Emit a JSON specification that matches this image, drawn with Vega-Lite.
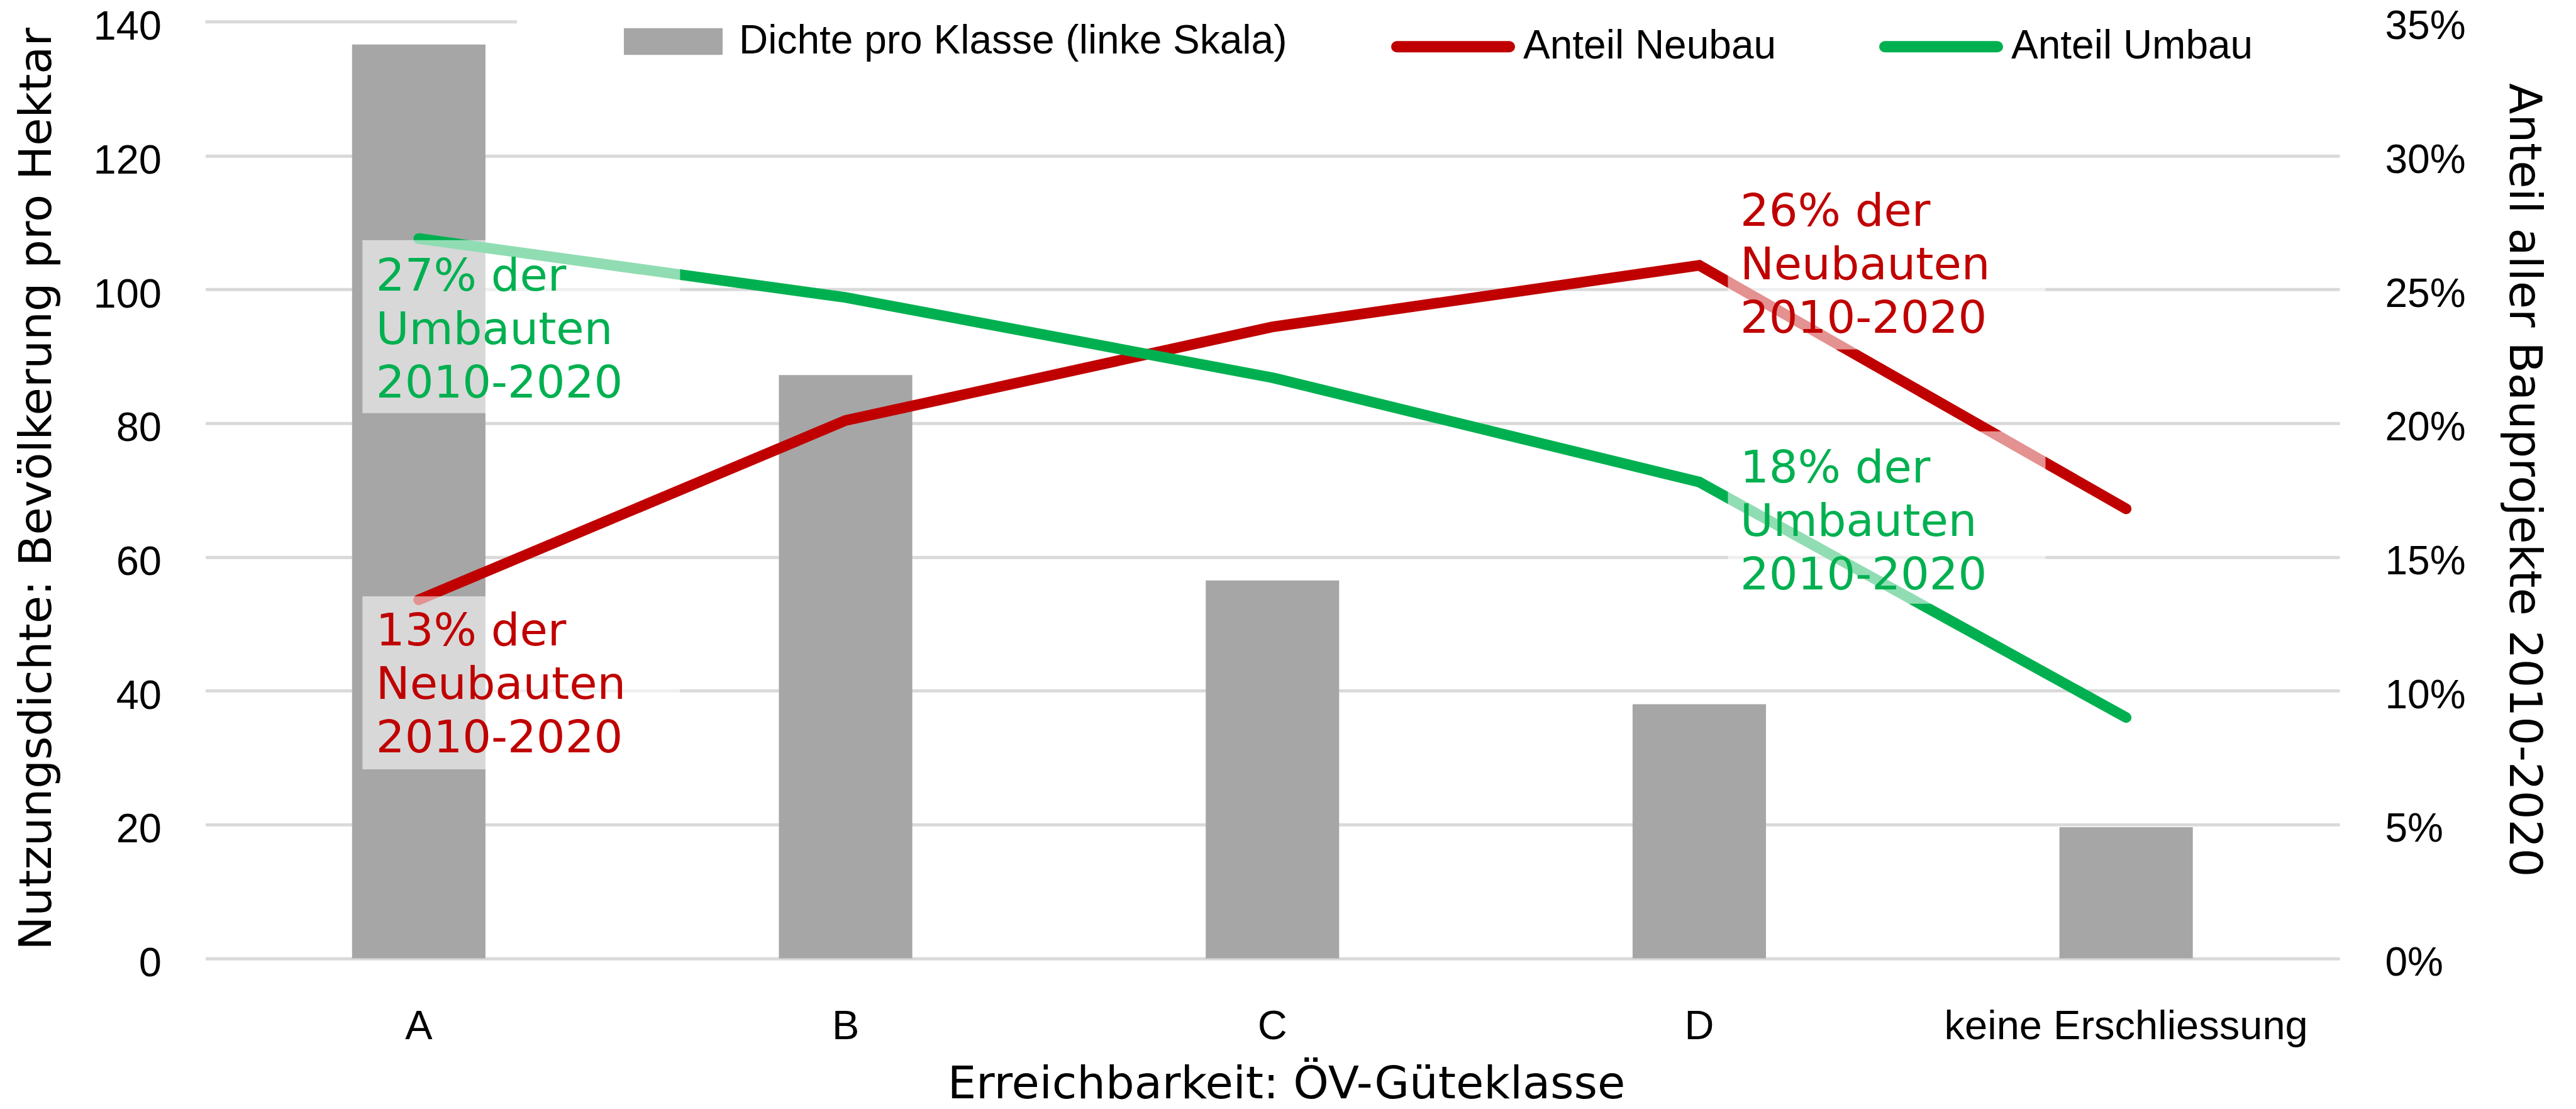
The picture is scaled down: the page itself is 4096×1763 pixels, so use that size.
{
  "$schema": "https://vega.github.io/schema/vega-lite/v6.json",
  "width": 3393.5,
  "height": 1488.8,
  "autosize": {"type": "none"},
  "padding": {"left": 326.5, "top": 34.7, "right": 376, "bottom": 239.5},
  "background": "white",
  "config": {"view": {"stroke": null}},
  "datasets": {
    "dichte": [
      {"Klasse": "A", "Dichte": 136.6},
      {"Klasse": "B", "Dichte": 87.2},
      {"Klasse": "C", "Dichte": 56.5},
      {"Klasse": "D", "Dichte": 38.0},
      {"Klasse": "keine Erschliessung", "Dichte": 19.6}
    ],
    "anteile": [
      {"Klasse": "A", "Serie": "Anteil Neubau", "Anteil": 0.134, "Notiz": "13% der\nNeubauten\n2010-2020"},
      {"Klasse": "B", "Serie": "Anteil Neubau", "Anteil": 0.201, "Notiz": ""},
      {"Klasse": "C", "Serie": "Anteil Neubau", "Anteil": 0.236, "Notiz": ""},
      {"Klasse": "D", "Serie": "Anteil Neubau", "Anteil": 0.259, "Notiz": "26% der\nNeubauten\n2010-2020"},
      {"Klasse": "keine Erschliessung", "Serie": "Anteil Neubau", "Anteil": 0.168, "Notiz": ""},
      {"Klasse": "A", "Serie": "Anteil Umbau", "Anteil": 0.269, "Notiz": "27% der\nUmbauten\n2010-2020"},
      {"Klasse": "B", "Serie": "Anteil Umbau", "Anteil": 0.247, "Notiz": ""},
      {"Klasse": "C", "Serie": "Anteil Umbau", "Anteil": 0.217, "Notiz": ""},
      {"Klasse": "D", "Serie": "Anteil Umbau", "Anteil": 0.178, "Notiz": "18% der\nUmbauten\n2010-2020"},
      {"Klasse": "keine Erschliessung", "Serie": "Anteil Umbau", "Anteil": 0.090, "Notiz": ""}
    ]
  },
  "encoding": {
    "x": {
      "field": "Klasse",
      "type": "nominal",
      "scale": {"domain": ["A", "B", "C", "D", "keine Erschliessung"], "paddingInner": 0.6875, "paddingOuter": 0.34375},
      "axis": {
        "title": "Erreichbarkeit: ÖV-Güteklasse",
        "domain": false,
        "ticks": false,
        "tickSize": 0,
        "grid": false,
        "labelAngle": 0,
        "labelPadding": 128,
        "labelBaseline": "alphabetic",
        "labelFont": "Liberation Sans",
        "labelFontSize": 65,
        "labelColor": "black",
        "labelLimit": 2000,
        "titleFont": "DejaVu Sans",
        "titleFontSize": 72,
        "titleFontWeight": "normal",
        "titleColor": "black",
        "titleBaseline": "alphabetic",
        "titleAlign": "center",
        "titleX": 1718.5,
        "titleY": 222
      }
    }
  },
  "layer": [
    {
      "data": {"name": "dichte"},
      "mark": {"type": "bar"},
      "encoding": {
        "y": {
          "field": "Dichte",
          "type": "quantitative",
          "scale": {"domain": [0, 140], "nice": false},
          "axis": {
            "orient": "left",
            "title": "Nutzungsdichte: Bevölkerung pro Hektar",
            "values": [0, 20, 40, 60, 80, 100, 120, 140],
            "grid": true,
            "gridColor": "#d9d9d9",
            "gridWidth": 5,
            "gridOpacity": {"condition": {"test": "datum.value === 140", "value": 0}, "value": 1},
            "domain": false,
            "ticks": false,
            "tickSize": 0,
            "labelPadding": 70,
            "labelFont": "Liberation Sans",
            "labelFontSize": 65,
            "labelColor": "black",
            "labelBaseline": "middle",
            "labelOffset": 8,
            "titleFont": "DejaVu Sans",
            "titleFontSize": 72,
            "titleFontWeight": "normal",
            "titleColor": "black",
            "titleAngle": -90,
            "titleBaseline": "alphabetic",
            "titleAlign": "center",
            "titleX": -246.5,
            "titleY": 742
          }
        },
        "fill": {
          "datum": "Dichte pro Klasse (linke Skala)",
          "type": "nominal",
          "scale": {"domain": ["Dichte pro Klasse (linke Skala)"], "range": ["#a6a6a6"]},
          "legend": {
            "title": null,
            "orient": "none",
            "legendX": 665.5,
            "legendY": -47.2,
            "padding": 0,
            "symbolType": "M-1,-0.27H1V0.27H-1Z",
            "symbolSize": 24649,
            "symbolStrokeWidth": 0,
            "symbolOpacity": 1,
            "labelOffset": 26,
            "labelFont": "Liberation Sans",
            "labelFontSize": 64,
            "labelColor": "black",
            "labelLimit": 2000
          }
        }
      }
    },
    {
      "data": {"name": "dichte"},
      "transform": [{"filter": "datum.Klasse === 'A'"}],
      "mark": {"type": "rule", "color": "#d9d9d9", "strokeWidth": 5, "xOffset": -339.3, "x2Offset": 156.2},
      "encoding": {
        "x2": {"field": "Klasse"},
        "y": {"datum": 140, "type": "quantitative", "scale": {"domain": [0, 140], "nice": false}, "axis": null}
      }
    },
    {
      "data": {"name": "anteile"},
      "mark": {"type": "line", "strokeWidth": 17, "strokeCap": "round", "strokeJoin": "miter"},
      "encoding": {
        "y": {
          "field": "Anteil",
          "type": "quantitative",
          "scale": {"domain": [0, 0.35], "nice": false},
          "axis": {
            "orient": "right",
            "title": "Anteil aller Bauprojekte 2010-2020",
            "values": [0, 0.05, 0.1, 0.15, 0.2, 0.25, 0.3, 0.35],
            "format": ".0%",
            "grid": false,
            "domain": false,
            "ticks": false,
            "tickSize": 0,
            "labelPadding": 72,
            "labelAlign": "left",
            "labelFont": "Liberation Sans",
            "labelFontSize": 64,
            "labelColor": "black",
            "labelBaseline": "middle",
            "labelOffset": 8,
            "titleFont": "DejaVu Sans",
            "titleFontSize": 72,
            "titleFontWeight": "normal",
            "titleColor": "black",
            "titleAngle": 90,
            "titleBaseline": "alphabetic",
            "titleAlign": "center",
            "titleX": 270,
            "titleY": 728
          }
        },
        "stroke": {
          "field": "Serie",
          "type": "nominal",
          "scale": {"domain": ["Anteil Neubau", "Anteil Umbau"], "range": ["#c00000", "#00b050"]},
          "legend": {
            "title": null,
            "orient": "none",
            "direction": "horizontal",
            "columns": 2,
            "legendX": 1885.5,
            "legendY": -59.2,
            "padding": 0,
            "symbolType": "stroke",
            "symbolSize": 32041,
            "symbolStrokeWidth": 18,
            "columnPadding": 136,
            "labelOffset": 13,
            "labelFont": "Liberation Sans",
            "labelFontSize": 64,
            "labelColor": "black",
            "labelLimit": 2000,
            "encode": {"symbols": {"update": {"strokeCap": {"value": "round"}}}}
          }
        }
      }
    },
    {
      "data": {"name": "anteile"},
      "transform": [{"filter": "datum.Klasse === 'A' && datum.Serie === 'Anteil Umbau'"}],
      "mark": {"type": "rect", "fill": "white", "opacity": 0.57, "width": 505, "xOffset": 163, "yOffset": 2.4, "y2Offset": 277.4},
      "encoding": {
        "y": {"field": "Anteil", "type": "quantitative", "scale": {"domain": [0, 0.35], "nice": false}, "axis": null},
        "y2": {"field": "Anteil"}
      }
    },
    {
      "data": {"name": "anteile"},
      "transform": [{"filter": "datum.Klasse === 'A' && datum.Serie === 'Anteil Neubau'"}],
      "mark": {"type": "rect", "fill": "white", "opacity": 0.57, "width": 505, "xOffset": 163, "yOffset": -5.6, "y2Offset": 269.4},
      "encoding": {
        "y": {"field": "Anteil", "type": "quantitative", "scale": {"domain": [0, 0.35], "nice": false}, "axis": null},
        "y2": {"field": "Anteil"}
      }
    },
    {
      "data": {"name": "anteile"},
      "transform": [{"filter": "datum.Klasse === 'D' && datum.Serie === 'Anteil Neubau'"}],
      "mark": {"type": "rect", "fill": "white", "opacity": 0.57, "width": 505, "xOffset": 298, "yOffset": -142.3, "y2Offset": 133.7},
      "encoding": {
        "y": {"field": "Anteil", "type": "quantitative", "scale": {"domain": [0, 0.35], "nice": false}, "axis": null},
        "y2": {"field": "Anteil"}
      }
    },
    {
      "data": {"name": "anteile"},
      "transform": [{"filter": "datum.Klasse === 'D' && datum.Serie === 'Anteil Umbau'"}],
      "mark": {"type": "rect", "fill": "white", "opacity": 0.57, "width": 505, "xOffset": 298, "yOffset": -80.7, "y2Offset": 193.3},
      "encoding": {
        "y": {"field": "Anteil", "type": "quantitative", "scale": {"domain": [0, 0.35], "nice": false}, "axis": null},
        "y2": {"field": "Anteil"}
      }
    },
    {
      "data": {"name": "anteile"},
      "transform": [{"filter": "datum.Klasse === 'A' && datum.Serie === 'Anteil Umbau'"}],
      "mark": {"type": "text", "align": "left", "baseline": "alphabetic", "dx": -68, "dy": 83, "font": "DejaVu Sans", "fontSize": 72, "lineHeight": 85, "lineBreak": "\n", "fill": "#00b050"},
      "encoding": {
        "y": {"field": "Anteil", "type": "quantitative", "scale": {"domain": [0, 0.35], "nice": false}, "axis": null},
        "text": {"field": "Notiz", "type": "nominal"}
      }
    },
    {
      "data": {"name": "anteile"},
      "transform": [{"filter": "datum.Klasse === 'A' && datum.Serie === 'Anteil Neubau'"}],
      "mark": {"type": "text", "align": "left", "baseline": "alphabetic", "dx": -68, "dy": 72, "font": "DejaVu Sans", "fontSize": 72, "lineHeight": 85, "lineBreak": "\n", "fill": "#c00000"},
      "encoding": {
        "y": {"field": "Anteil", "type": "quantitative", "scale": {"domain": [0, 0.35], "nice": false}, "axis": null},
        "text": {"field": "Notiz", "type": "nominal"}
      }
    },
    {
      "data": {"name": "anteile"},
      "transform": [{"filter": "datum.Klasse === 'D' && datum.Serie === 'Anteil Neubau'"}],
      "mark": {"type": "text", "align": "left", "baseline": "alphabetic", "dx": 65, "dy": -63, "font": "DejaVu Sans", "fontSize": 72, "lineHeight": 85, "lineBreak": "\n", "fill": "#c00000"},
      "encoding": {
        "y": {"field": "Anteil", "type": "quantitative", "scale": {"domain": [0, 0.35], "nice": false}, "axis": null},
        "text": {"field": "Notiz", "type": "nominal"}
      }
    },
    {
      "data": {"name": "anteile"},
      "transform": [{"filter": "datum.Klasse === 'D' && datum.Serie === 'Anteil Umbau'"}],
      "mark": {"type": "text", "align": "left", "baseline": "alphabetic", "dx": 65, "dy": 1, "font": "DejaVu Sans", "fontSize": 72, "lineHeight": 85, "lineBreak": "\n", "fill": "#00b050"},
      "encoding": {
        "y": {"field": "Anteil", "type": "quantitative", "scale": {"domain": [0, 0.35], "nice": false}, "axis": null},
        "text": {"field": "Notiz", "type": "nominal"}
      }
    }
  ],
  "resolve": {"scale": {"y": "independent"}}
}
